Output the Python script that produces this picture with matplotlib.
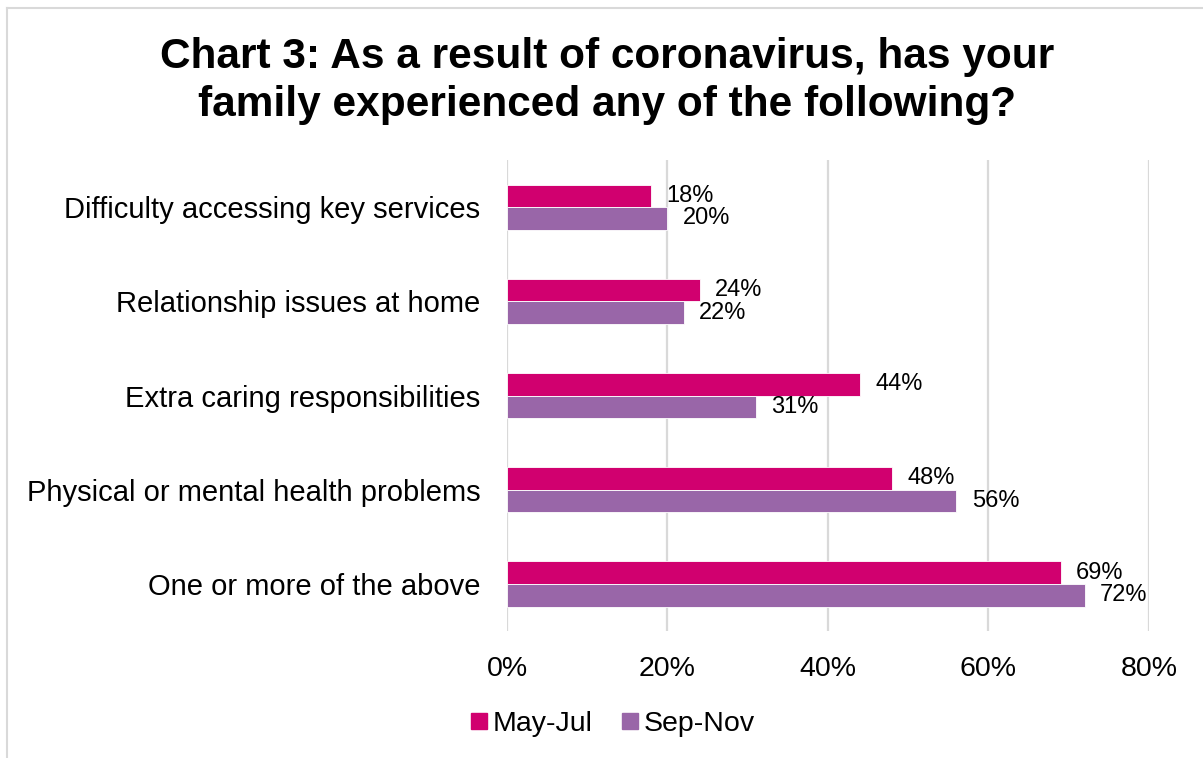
import numpy as np
import matplotlib
matplotlib.use("Agg")
import matplotlib.pyplot as plt
from matplotlib.lines import Line2D

plt.rcParams['font.family'] = ['Liberation Sans', 'DejaVu Sans']

# dati
categories = ['Difficulty accessing key services', 'Relationship issues at home',
              'Extra caring responsibilities', 'Physical or mental health problems',
              'One or more of the above']
may_jul = [18, 24, 44, 48, 69]
sep_nov = [20, 22, 31, 56, 72]
series_names = ['May-Jul', 'Sep-Nov']
x_ticks = [0, 20, 40, 60, 80]

col_may = '#D1006F'
col_sep = '#9966A8'

fig = plt.figure(figsize=(12.03, 7.58), dpi=100)
ax = fig.add_axes([0.4214, 0.1675, 0.5337, 0.6214])

y = np.arange(len(categories))
h = 0.24
b1 = ax.barh(y - h / 2, may_jul, height=h, color=col_may, edgecolor='white', linewidth=0.6, zorder=3)
b2 = ax.barh(y + h / 2, sep_nov, height=h, color=col_sep, edgecolor='white', linewidth=0.6, zorder=3)

ax.bar_label(b1, labels=[f'{v}%' for v in may_jul], padding=11, fontsize=17)
ax.bar_label(b2, labels=[f'{v}%' for v in sep_nov], padding=11, fontsize=17)

ax.set_xlim(0, 80)
ax.set_ylim(len(categories) - 0.5, -0.5)
ax.set_xticks(x_ticks)
ax.set_xticklabels([f'{t}%' for t in x_ticks], fontsize=20.5)
ax.set_yticks(y)
ax.set_yticklabels(categories, fontsize=21)
ax.tick_params(axis='x', length=0, pad=18)
ax.tick_params(axis='y', length=0, pad=19)
ax.grid(axis='x', color='#D9D9D9', linewidth=1.6, zorder=0)
for s in ax.spines.values():
    s.set_visible(False)

fig.text(0.505, 0.893, 'Chart 3: As a result of coronavirus, has your\nfamily experienced any of the following?',
         ha='center', va='center', fontsize=30.5, fontweight='bold', linespacing=1.25)

handles = [Line2D([], [], marker='s', linestyle='none', markersize=12, color=col_may),
           Line2D([], [], marker='s', linestyle='none', markersize=12, color=col_sep)]
fig.legend(handles, series_names, loc='center', bbox_to_anchor=(0.508, 0.045), ncol=2,
           frameon=False, fontsize=20.5, handletextpad=0.1, columnspacing=0.9, handlelength=0.8)

# cornice
fig.add_artist(Line2D([7 / 1203, 7 / 1203], [0, 1 - 8 / 758], transform=fig.transFigure, color='#D9D9D9', lw=1.5))
fig.add_artist(Line2D([7 / 1203, 1], [1 - 8 / 758, 1 - 8 / 758], transform=fig.transFigure, color='#D9D9D9', lw=1.5))

fig.savefig('out.png', dpi=100)
